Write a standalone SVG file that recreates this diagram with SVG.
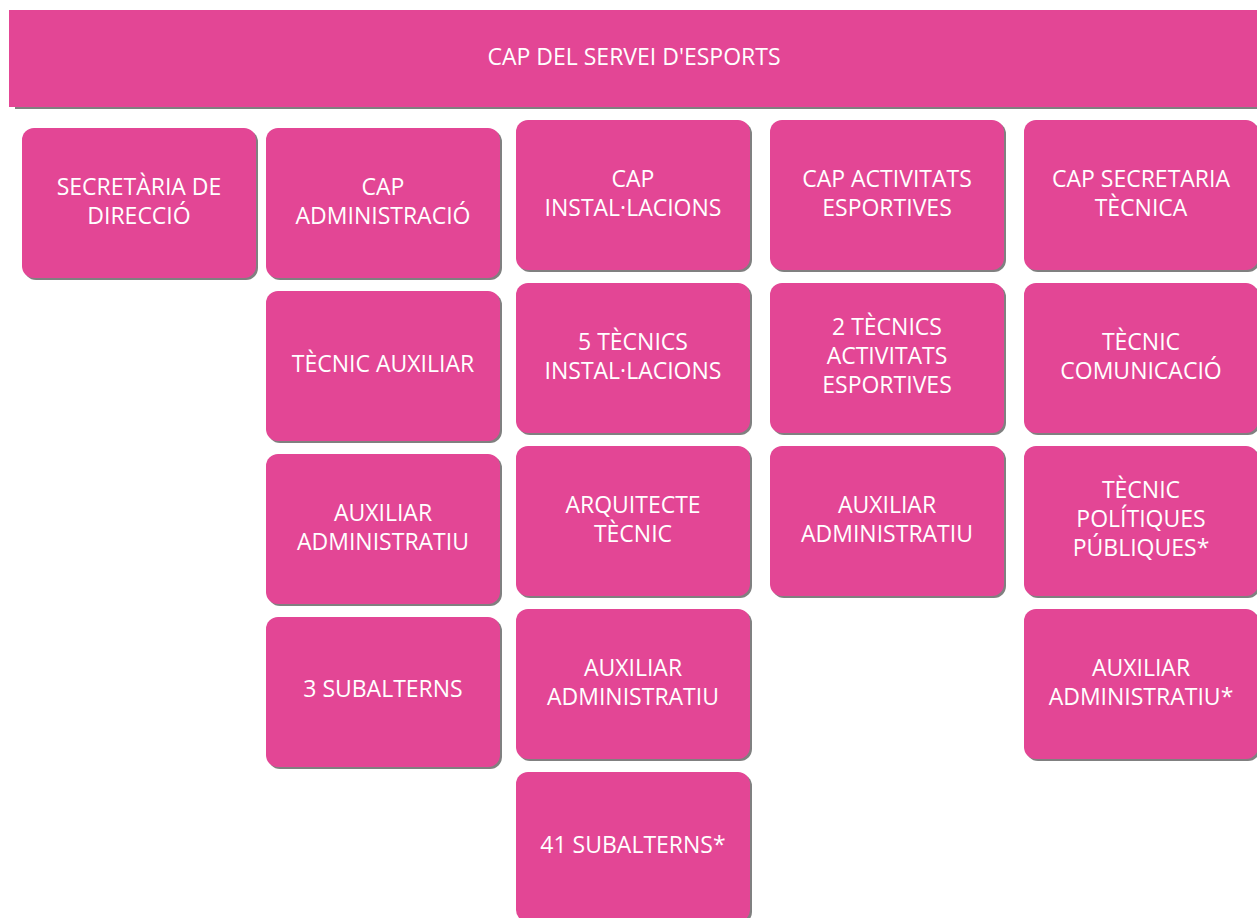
<svg xmlns="http://www.w3.org/2000/svg" width="1257" height="918" viewBox="0 0 1257 918">
<style>
.sh{fill:#808080}
.bx{fill:#E34695}
text{font-family:"Open Sans","Liberation Sans",sans-serif;font-size:23px;fill:#ffffff;text-anchor:middle}
</style>
<defs>
<g id="card"><rect class="sh" x="2" y="2" width="234" height="150" rx="12"/><rect class="bx" x="0" y="0" width="234" height="150" rx="12"/></g>
</defs>
<rect width="1257" height="918" fill="#ffffff"/>
<g id="connectors"></g>
<g id="n-cap">
<rect class="sh" x="15" y="12" width="1242" height="97"/>
<rect class="bx" x="9" y="10" width="1248" height="97"/>
<text x="634" y="65">CAP DEL SERVEI D'ESPORTS</text>
</g>
<g transform="translate(0,-2)">
<g id="n-secretaria"><use href="#card" x="22" y="130"/><text x="139" y="196.5">SECRETÀRIA DE</text><text x="139" y="225.5">DIRECCIÓ</text></g>
<g id="n-capadmin"><use href="#card" x="266" y="130"/><text x="383" y="196.5">CAP</text><text x="383" y="225.5">ADMINISTRACIÓ</text></g>
<g id="n-tecaux"><use href="#card" x="266" y="293"/><text x="383" y="374">TÈCNIC AUXILIAR</text></g>
<g id="n-auxadm1"><use href="#card" x="266" y="456"/><text x="383" y="522.5">AUXILIAR</text><text x="383" y="551.5">ADMINISTRATIU</text></g>
<g id="n-3sub"><use href="#card" x="266" y="619"/><text x="383" y="699">3 SUBALTERNS</text></g>
<g id="n-capinst"><use href="#card" x="516" y="122"/><text x="633" y="188.5">CAP</text><text x="633" y="217.5">INSTAL·LACIONS</text></g>
<g id="n-5tec"><use href="#card" x="516" y="285"/><text x="633" y="351.5">5 TÈCNICS</text><text x="633" y="380.5">INSTAL·LACIONS</text></g>
<g id="n-arq"><use href="#card" x="516" y="448"/><text x="633" y="514.5">ARQUITECTE</text><text x="633" y="543.5">TÈCNIC</text></g>
<g id="n-auxadm2"><use href="#card" x="516" y="611"/><text x="633" y="677.5">AUXILIAR</text><text x="633" y="706.5">ADMINISTRATIU</text></g>
<g id="n-41sub"><use href="#card" x="516" y="774"/><text x="633" y="855">41 SUBALTERNS*</text></g>
<g id="n-capact"><use href="#card" x="770" y="122"/><text x="887" y="188.5">CAP ACTIVITATS</text><text x="887" y="217.5">ESPORTIVES</text></g>
<g id="n-2tec"><use href="#card" x="770" y="285"/><text x="887" y="337">2 TÈCNICS</text><text x="887" y="366">ACTIVITATS</text><text x="887" y="395">ESPORTIVES</text></g>
<g id="n-auxadm3"><use href="#card" x="770" y="448"/><text x="887" y="514.5">AUXILIAR</text><text x="887" y="543.5">ADMINISTRATIU</text></g>
<g id="n-capsec"><use href="#card" x="1024" y="122"/><text x="1141" y="188.5">CAP SECRETARIA</text><text x="1141" y="217.5">TÈCNICA</text></g>
<g id="n-teccom"><use href="#card" x="1024" y="285"/><text x="1141" y="351.5">TÈCNIC</text><text x="1141" y="380.5">COMUNICACIÓ</text></g>
<g id="n-tecpol"><use href="#card" x="1024" y="448"/><text x="1141" y="500">TÈCNIC</text><text x="1141" y="529">POLÍTIQUES</text><text x="1141" y="558">PÚBLIQUES*</text></g>
<g id="n-auxadm4"><use href="#card" x="1024" y="611"/><text x="1141" y="677.5">AUXILIAR</text><text x="1141" y="706.5">ADMINISTRATIU*</text></g>
</g>
</svg>
